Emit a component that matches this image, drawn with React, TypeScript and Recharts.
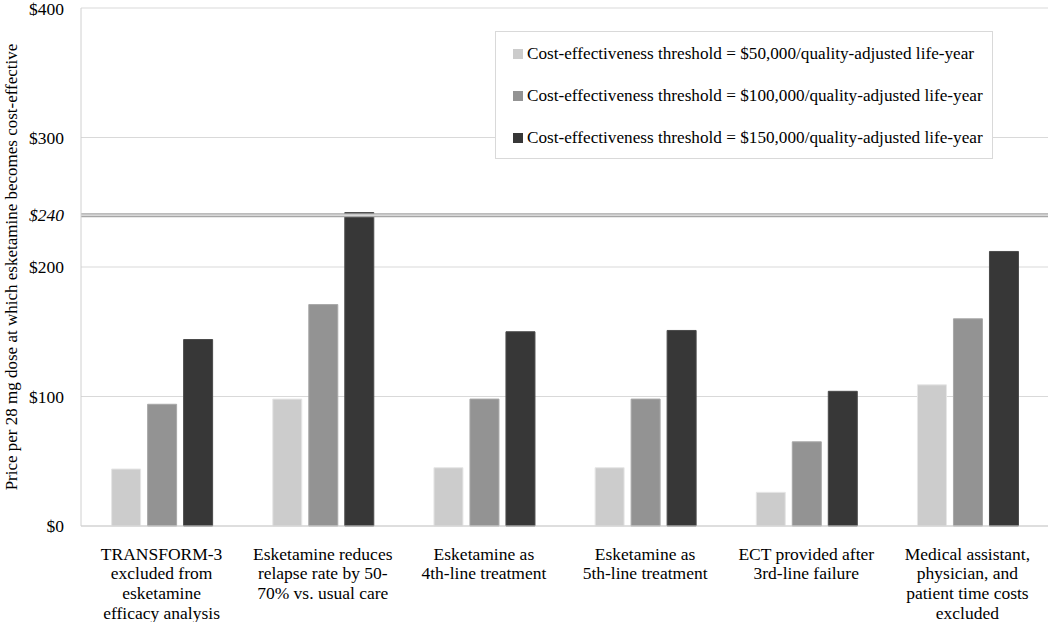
import { BarChart, Bar, XAxis, YAxis, CartesianGrid, ReferenceLine } from "recharts";

const scenarios = [
  "TRANSFORM-3\nexcluded from\nesketamine\nefficacy analysis",
  "Esketamine reduces\nrelapse rate by 50-\n70% vs. usual care",
  "Esketamine as\n4th-line treatment",
  "Esketamine as\n5th-line treatment",
  "ECT provided after\n3rd-line failure",
  "Medical assistant,\nphysician, and\npatient time costs\nexcluded",
];
const wtp50k = [44, 98, 45, 45, 26, 109];
const wtp100k = [94, 171, 98, 98, 65, 160];
const wtp150k = [144, 242, 150, 151, 104, 212];
const yTicks = [0, 100, 200, 240, 300, 400];

const seriesNames = [
  "Cost-effectiveness threshold = $50,000/quality-adjusted life-year",
  "Cost-effectiveness threshold = $100,000/quality-adjusted life-year",
  "Cost-effectiveness threshold = $150,000/quality-adjusted life-year",
];
const seriesColors = ["#cccccc", "#939393", "#373737"];

const data = scenarios.map((name, i) => ({
  name,
  a: wtp50k[i],
  b: wtp100k[i],
  c: wtp150k[i],
}));

const FONT = "'Liberation Serif', 'Times New Roman', Times, serif";

function XTick({ x, y, payload }: any) {
  const lines = String(payload.value).split("\n");
  return (
    <text x={x} y={y} textAnchor="middle" fontFamily={FONT} fontSize={17.5} fill="#000">
      {lines.map((l, i) => (
        <tspan key={i} x={x} dy={i === 0 ? 25.5 : 19.8}>
          {l}
        </tspan>
      ))}
    </text>
  );
}

function YTick({ x, y, payload }: any) {
  const v = payload.value;
  return (
    <text
      x={x - 9}
      y={y}
      dy={6}
      textAnchor="end"
      fontFamily={FONT}
      fontSize={17.5}
      fontStyle={v === 240 ? "italic" : "normal"}
      fill="#000"
    >
      {"$" + v}
    </text>
  );
}

function YLabel({ viewBox }: any) {
  const cx = 11;
  const cy = viewBox.y + viewBox.height / 2;
  return (
    <text
      x={cx}
      y={cy}
      transform={`rotate(-90, ${cx}, ${cy})`}
      textAnchor="middle"
      dominantBaseline="central"
      fontFamily={FONT}
      fontSize={17}
      fill="#000"
    >
      Price per 28 mg dose at which esketamine becomes cost-effective
    </text>
  );
}

export default function App() {
  return (
    <div style={{ position: "absolute", left: 0, top: 0, width: 1050, height: 622, background: "#fff" }}>
      <BarChart
        width={1050}
        height={622}
        data={data}
        margin={{ top: 8, right: 2, bottom: 0, left: 0 }}
        barCategoryGap="19%"
        barGap={7}
      >
        <CartesianGrid vertical={false} stroke="#d9d9d9" />
        <XAxis
          dataKey="name"
          interval={0}
          height={96}
          tick={<XTick />}
          tickLine={false}
          axisLine={{ stroke: "#d0d0d0" }}
        />
        <YAxis
          domain={[0, 400]}
          ticks={yTicks}
          width={81}
          tick={<YTick />}
          tickLine={false}
          axisLine={{ stroke: "#d0d0d0" }}
          label={<YLabel />}
        />
        <Bar dataKey="a" name={seriesNames[0]} fill={seriesColors[0]} stroke="#e6e6e6" isAnimationActive={false} />
        <Bar dataKey="b" name={seriesNames[1]} fill={seriesColors[1]} stroke="#a8a8a8" isAnimationActive={false} />
        <Bar dataKey="c" name={seriesNames[2]} fill={seriesColors[2]} stroke="#4a4a4a" isAnimationActive={false} />
        <ReferenceLine y={240} stroke="#a6a6a6" strokeWidth={4} />
        <ReferenceLine y={240} stroke="#e8e8e8" strokeWidth={1.2} />
      </BarChart>
      <div
        style={{
          position: "absolute",
          left: 495,
          top: 31,
          width: 498,
          height: 128,
          border: "1px solid #d9d9d9",
          background: "#fff",
          padding: "1px 0 0 17px",
          boxSizing: "border-box",
          fontFamily: FONT,
          fontSize: 17.2,
        }}
      >
        {seriesNames.map((n, i) => (
          <div key={n} style={{ height: 42, display: "flex", alignItems: "center" }}>
            <span style={{ width: 10, height: 10, background: seriesColors[i], marginRight: 4, display: "inline-block" }} />
            <span>{n}</span>
          </div>
        ))}
      </div>
    </div>
  );
}
